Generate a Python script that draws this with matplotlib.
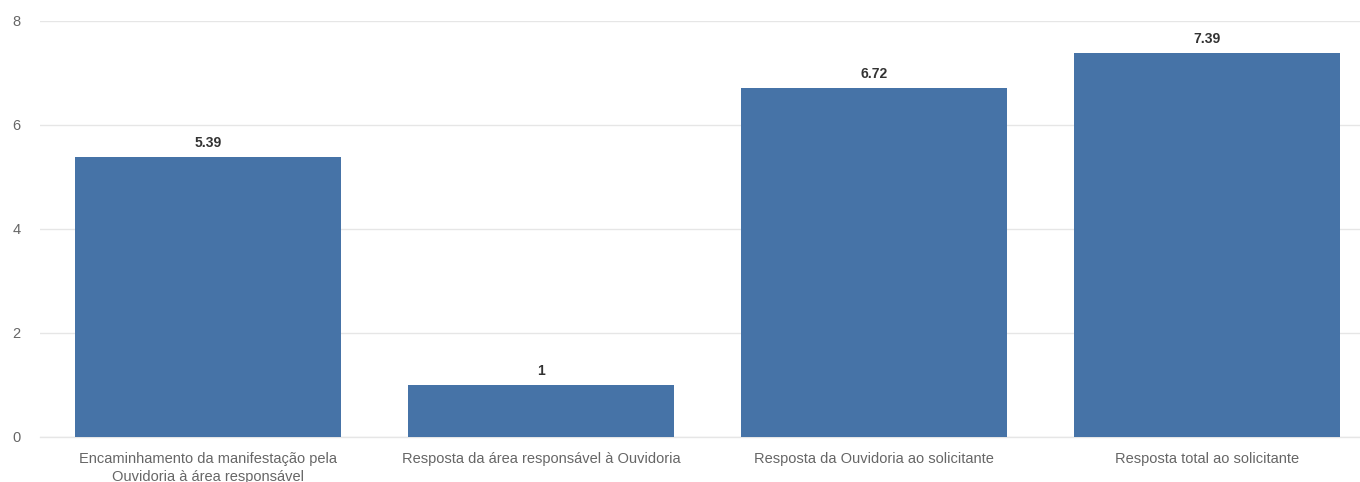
import matplotlib
matplotlib.use('Agg')
import matplotlib.pyplot as plt

plt.rcParams['font.family'] = ['Liberation Sans', 'DejaVu Sans']

categorias = ['Encaminhamento da manifestação pela\nOuvidoria à área responsável',
              'Resposta da área responsável à Ouvidoria',
              'Resposta da Ouvidoria ao solicitante',
              'Resposta total ao solicitante']
valores = [5.39, 1, 6.72, 7.39]
rotulos = ['5.39', '1', '6.72', '7.39']
yticks = [0, 2, 4, 6, 8]

W, H = 1360, 482
fig = plt.figure(figsize=(W/100, H/100), dpi=100)
ax = fig.add_axes([40/W, (H-437)/H, 1-40/W, (437-21)/H])

x = range(len(valores))
ax.bar(x, valores, width=0.8, color='#4673a7', zorder=2)
for xi, v, r in zip(x, valores, rotulos):
    ax.annotate(r, (xi, v), xytext=(0, 5), textcoords='offset points',
                ha='center', va='bottom', fontsize=10, fontweight='bold', color='#333333')

ax.set_xlim(-0.505, 3.46)
ax.set_ylim(0, 8)
ax.set_yticks(yticks)
ax.set_xticks(list(x))
ax.set_xticklabels(categorias, fontsize=10.5, color='#666666', linespacing=1.3)
ax.tick_params(axis='y', length=0, pad=14, labelsize=10.5, labelcolor='#666666')
ax.tick_params(axis='x', length=0, pad=11)
ax.grid(axis='y', color='#e6e6e6', linewidth=1, zorder=0)
ax.set_axisbelow(True)
for s in ax.spines.values():
    s.set_visible(False)
ax.axhline(0, color='#e6e6e6', linewidth=1, zorder=1, clip_on=False)

fig.savefig('out.png', dpi=100)
